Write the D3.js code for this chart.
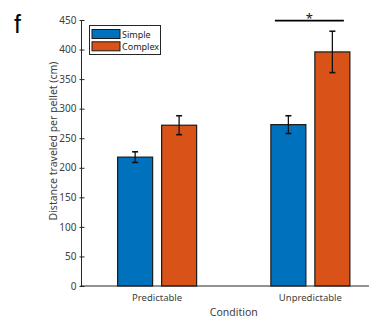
<!DOCTYPE html>
<html>
<head>
<meta charset="utf-8">
<script src="https://cdn.jsdelivr.net/npm/d3@7"></script>
<style>
  html, body { margin: 0; padding: 0; background: #fff; }
  svg { display: block; font-family: "Noto Sans", "DejaVu Sans", sans-serif; }
</style>
</head>
<body>
<svg id="chart" width="369" height="322"></svg>
<script>
// Mean distance per pellet with standard error, per condition and maze type
const conditions = ["Predictable", "Unpredictable"];
const seriesNames = ["Simple", "Complex"];
const seriesColors = ["#0072BD", "#D95319"];
const simpleMeans = [218, 273];
const simpleErrors = [9, 15];
const complexMeans = [272, 396];
const complexErrors = [16, 35];
const yTicks = [0, 50, 100, 150, 200, 250, 300, 350, 400, 450];
const significance = [{ condition: "Unpredictable", y: 449, label: "*" }];

const svg = d3.select("#chart");

const x = d3.scaleLinear().domain([0.5, 2.5]).range([80.5, 387]);
const y = d3.scaleLinear().domain([0, 450]).range([286, 20]);

const barWidth = 35;
const barOffset = 22;
const series = [
  { name: seriesNames[0], color: seriesColors[0], means: simpleMeans, errs: simpleErrors, dx: -barOffset },
  { name: seriesNames[1], color: seriesColors[1], means: complexMeans, errs: complexErrors, dx: barOffset }
];

// Bars
series.forEach(s => {
  svg.append("g").selectAll("rect")
    .data(conditions)
    .join("rect")
    .attr("x", (c, i) => x(i + 1) + s.dx - barWidth / 2)
    .attr("y", (c, i) => y(s.means[i]))
    .attr("width", barWidth)
    .attr("height", (c, i) => y(0) - y(s.means[i]))
    .attr("fill", s.color)
    .attr("stroke", "#1a1a1a")
    .attr("stroke-width", 1.2);
});

// Error bars
series.forEach(s => {
  const g = svg.append("g").attr("stroke", "#111").attr("stroke-width", 1.3);
  conditions.forEach((c, i) => {
    const cx = x(i + 1) + s.dx;
    const lo = y(s.means[i] - s.errs[i]);
    const hi = y(s.means[i] + s.errs[i]);
    g.append("line").attr("x1", cx).attr("x2", cx).attr("y1", lo).attr("y2", hi);
    g.append("line").attr("x1", cx - 3).attr("x2", cx + 3).attr("y1", lo).attr("y2", lo).attr("stroke-width", 1.6);
    g.append("line").attr("x1", cx - 3).attr("x2", cx + 3).attr("y1", hi).attr("y2", hi).attr("stroke-width", 1.6);
  });
});

// Axes lines
svg.append("line")
  .attr("x1", x.range()[0]).attr("x2", x.range()[1])
  .attr("y1", y(0)).attr("y2", y(0))
  .attr("stroke", "#262626").attr("stroke-width", 1);

const yAxis = d3.axisLeft(y).tickValues(yTicks).tickSize(2).tickPadding(3);
const yg = svg.append("g")
  .attr("transform", `translate(${x.range()[0] + 1},0)`)
  .call(yAxis);
yg.select(".domain").attr("stroke", "#262626").attr("d", `M0,${y(450)}V${y(0)}`);
yg.selectAll(".tick line").attr("stroke", "#262626").attr("x1", -2).attr("x2", 3);
yg.selectAll(".tick text")
  .attr("fill", "#404040")
  .style("font-size", "10px")
  .style("font-family", "'Noto Sans', sans-serif");

// Category labels
svg.append("g").selectAll("text")
  .data(conditions)
  .join("text")
  .attr("x", (c, i) => x(i + 1))
  .attr("y", 301)
  .attr("text-anchor", "middle")
  .attr("fill", "#404040")
  .style("font-size", "9.5px")
  .text(d => d);

// Axis titles
svg.append("text")
  .attr("x", (x.range()[0] + x.range()[1]) / 2)
  .attr("y", 316)
  .attr("text-anchor", "middle")
  .attr("fill", "#404040")
  .style("font-size", "10.5px")
  .text("Condition");

svg.append("text")
  .attr("transform", "translate(57,141) rotate(-90)")
  .attr("text-anchor", "middle")
  .attr("fill", "#404040")
  .style("font-size", "10.5px")
  .text("Distance traveled per pellet (cm)");

// Significance marker
significance.forEach(sg => {
  const i = conditions.indexOf(sg.condition);
  const x1 = x(i + 1) - barOffset - barWidth / 2 + 4;
  const x2 = x(i + 1) + barOffset + barWidth / 2 - 6;
  svg.append("line")
    .attr("x1", x1).attr("x2", x2)
    .attr("y1", y(sg.y)).attr("y2", y(sg.y))
    .attr("stroke", "#000").attr("stroke-width", 1.8);
  svg.append("text")
    .attr("x", (x1 + x2) / 2)
    .attr("y", y(sg.y) + 2)
    .attr("text-anchor", "middle")
    .attr("fill", "#111")
    .style("font-size", "13px")
    .text(sg.label);
});

// Legend
const legend = svg.append("g").attr("transform", "translate(89.5,25.5)");
legend.append("rect")
  .attr("width", 71).attr("height", 29)
  .attr("fill", "#fff").attr("stroke", "#262626").attr("stroke-width", 1);
series.forEach((s, i) => {
  const row = legend.append("g").attr("transform", `translate(2.5,${4 + i * 12.3})`);
  row.append("rect")
    .attr("width", 28).attr("height", 9)
    .attr("fill", s.color).attr("stroke", "#1a1a1a").attr("stroke-width", 1);
  row.append("text")
    .attr("x", 30).attr("y", 8)
    .attr("fill", "#262626")
    .style("font-size", "9px")
    .text(s.name);
});

// Panel letter
svg.append("text")
  .attr("x", 14).attr("y", 33)
  .attr("fill", "#000")
  .style("font-family", "'Liberation Sans', Arial, sans-serif")
  .style("font-size", "25px")
  .text("f");
</script>
</body>
</html>
